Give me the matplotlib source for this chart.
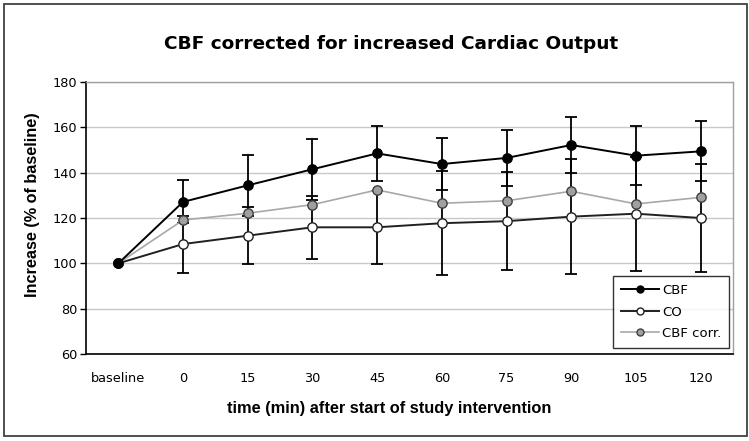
import matplotlib
matplotlib.use("Agg")
import matplotlib.pyplot as plt
from matplotlib import font_manager
import numpy as np

categories = ["baseline", "0", "15", "30", "45", "60", "75", "90", "105", "120"]
cbf = [100, 127.1, 134.4, 141.5, 148.5, 143.8, 146.5, 152.2, 147.5, 149.4]
cbf_sd = [0, 9.5, 13.3, 13.5, 12.0, 11.5, 12.5, 12.2, 13.1, 13.2]
co = [100, 108.5, 112.2, 115.9, 115.9, 117.7, 118.6, 120.6, 121.9, 120.0]
co_sd = [0, 12.6, 12.5, 13.8, 16.2, 23.0, 21.5, 25.3, 25.1, 24.0]
cbf_corr = [100, 119.1, 122.1, 125.9, 132.4, 126.5, 127.6, 131.8, 126.2, 129.1]

names = {f.name for f in font_manager.fontManager.ttflist}
arial = "Liberation Sans" if "Liberation Sans" in names else "DejaVu Sans"
wide = "DejaVu Sans"
plt.rcParams["font.family"] = [wide]

fig = plt.figure(figsize=(7.49, 4.41), dpi=100)
W, H = 749, 441
ax = fig.add_axes([86 / W, 1 - 354 / H, (733 - 86) / W, (354 - 82) / H])

x = np.arange(len(categories))

# error bars (behind markers)
ax.errorbar(x[1:], cbf[1:], yerr=cbf_sd[1:], fmt="none", ecolor="black",
            elinewidth=1.3, capsize=4, capthick=1.3, zorder=2)
ax.errorbar(x[1:], co[1:], yerr=co_sd[1:], fmt="none", ecolor="black",
            elinewidth=1.3, capsize=4, capthick=1.3, zorder=2)

ax.plot(x, co, color="#202020", lw=1.4, marker="o", ms=6.7, mfc="white",
        mec="#202020", mew=1.0, label="CO", zorder=3)
ax.plot(x, cbf_corr, color="#a8a8a8", lw=1.2, marker="o", ms=6.7, mfc="#a0a0a0",
        mec="#404040", mew=1.0, label="CBF corr.", zorder=3)
ax.plot(x, cbf, color="black", lw=1.4, marker="o", ms=6.7, mfc="black",
        mec="black", mew=1.0, label="CBF", zorder=4)

ax.set_xlim(-0.5, len(categories) - 0.5)
ax.set_ylim(60, 180)
ax.set_yticks(np.arange(60, 181, 20))
ax.set_xticks(x)
ax.set_xticklabels(categories)
ax.tick_params(axis="x", length=0, pad=13, labelsize=9.3)
ax.tick_params(axis="y", length=4, width=1, direction="out", pad=2, labelsize=9.3)
ax.yaxis.grid(True, color="#c8c8c8", lw=1)
ax.set_axisbelow(True)
for s in ["top", "right"]:
    ax.spines[s].set_color("#a0a0a0")
    ax.spines[s].set_linewidth(1)
for s in ["left", "bottom"]:
    ax.spines[s].set_color("black")
    ax.spines[s].set_linewidth(1.2)

handles, labels = ax.get_legend_handles_labels()
order = [labels.index("CBF"), labels.index("CO"), labels.index("CBF corr.")]
leg = ax.legend([handles[i] for i in order], [labels[i] for i in order],
                loc="lower right", bbox_to_anchor=(729 / W, 1 - 348 / H),
                bbox_transform=fig.transFigure, frameon=True, fancybox=False,
                edgecolor="black", fontsize=9.5, handlelength=2.9,
                borderpad=0.6, labelspacing=0.65, markerscale=0.75,
                handletextpad=0.2, borderaxespad=0)
leg.get_frame().set_linewidth(1.0)
leg.set_zorder(10)

fig.text(391 / W, 1 - 44 / H, "CBF corrected for increased Cardiac Output",
         ha="center", va="center", fontsize=13.3, fontweight="bold")
fig.text(389 / W, 1 - 408 / H, "time (min) after start of study intervention",
         ha="center", va="center", fontsize=11.8, fontweight="bold",
         family=[arial, "DejaVu Sans"])
fig.text(33 / W, 1 - 205 / H, "Increase (% of baseline)", ha="center",
         va="center", rotation=90, fontsize=11.7, fontweight="bold",
         family=[arial, "DejaVu Sans"])

# outer frame of chart area
frame = plt.Rectangle((4 / W, 5 / H), 743 / W, 432 / H, transform=fig.transFigure,
                      fill=False, edgecolor="#404040", lw=1.3)
fig.patches.append(frame)

fig.savefig("out.png", dpi=100)
